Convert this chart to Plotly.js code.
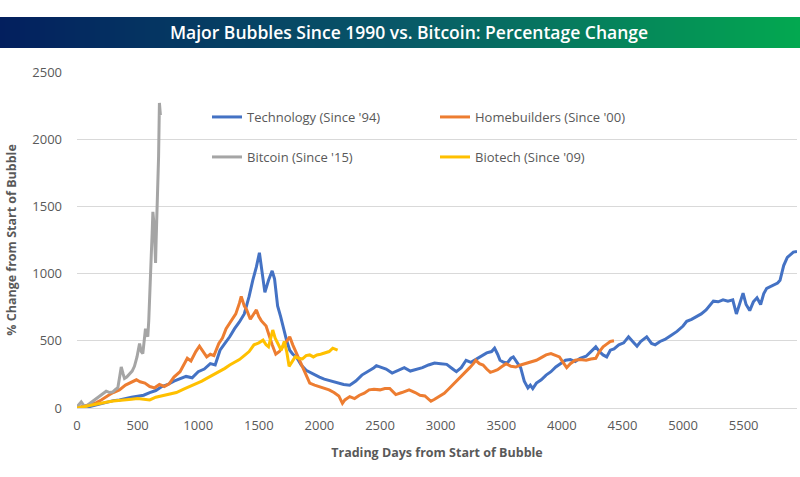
<!DOCTYPE html>
<html>
<head>
<meta charset="utf-8">
<script src="https://cdn.plot.ly/plotly-3.0.1.min.js"></script>
<style>
html,body{margin:0;padding:0;background:#fff;}
#chart{width:800px;height:477px;}
</style>
</head>
<body>
<div id="chart"></div>
<script>
// ---- Data ----
const techDays = [0,40,80,120,160,200,250,300,350,400,450,500,550,600,650,700,750,800,850,900,950,1000,1050,1100,1140,1180,1220,1260,1300,1340,1380,1420,1450,1480,1505,1530,1550,1580,1610,1630,1655,1680,1700,1730,1755,1780,1810,1850,1890,1930,1970,2000,2040,2080,2120,2160,2200,2250,2300,2350,2400,2450,2470,2500,2550,2600,2650,2700,2750,2800,2850,2900,2950,3000,3050,3100,3130,3170,3210,3250,3300,3340,3380,3420,3445,3470,3490,3520,3550,3580,3600,3630,3660,3690,3720,3740,3760,3790,3830,3870,3910,3950,3990,4030,4070,4110,4150,4200,4240,4280,4310,4340,4370,4400,4430,4470,4510,4550,4590,4620,4650,4700,4740,4770,4810,4850,4900,4950,5000,5030,5070,5110,5150,5190,5220,5250,5290,5330,5370,5410,5440,5470,5495,5520,5550,5580,5610,5640,5665,5690,5720,5750,5780,5800,5830,5860,5880,5910,5940];
const techVals = [0,8,5,15,25,35,45,55,60,72,80,88,95,115,130,160,175,200,215,235,225,270,290,330,320,430,480,530,590,640,700,830,950,1050,1155,980,860,950,1020,960,760,680,600,500,430,400,380,320,280,260,240,230,215,205,195,185,175,170,200,245,270,300,315,305,290,260,280,300,275,285,300,320,335,330,325,290,270,300,355,340,365,385,410,420,445,400,355,340,335,370,380,340,300,200,150,170,145,185,210,245,270,305,330,355,360,345,370,385,420,455,420,395,380,430,440,470,485,530,490,460,495,530,480,470,495,510,540,570,610,645,660,680,700,730,760,795,790,805,795,805,700,780,855,770,725,790,820,770,850,890,905,915,930,950,1060,1120,1135,1160,1165];

const homeDays = [0,40,80,120,160,200,240,270,300,350,400,450,490,520,560,600,640,680,720,760,800,850,880,910,940,980,1010,1040,1070,1100,1130,1170,1200,1230,1270,1310,1340,1355,1380,1400,1430,1460,1480,1500,1520,1560,1590,1610,1640,1670,1700,1730,1755,1780,1810,1840,1870,1900,1920,1960,2000,2040,2080,2120,2160,2190,2210,2250,2290,2330,2370,2410,2450,2500,2540,2580,2630,2680,2740,2790,2830,2870,2920,2950,2990,3030,3070,3110,3150,3200,3240,3270,3290,3320,3350,3380,3410,3440,3470,3500,3540,3580,3620,3660,3700,3740,3790,3830,3870,3910,3940,3980,4010,4040,4070,4110,4150,4200,4240,4280,4310,4340,4370,4400,4430];
const homeVals = [0,10,20,35,40,60,85,100,115,135,170,195,210,195,185,160,150,175,160,180,230,270,320,370,350,420,460,420,380,400,390,480,520,590,650,700,780,830,760,730,660,700,730,680,650,610,520,470,400,420,460,500,530,470,410,340,280,220,185,170,160,145,135,115,90,35,60,85,70,95,110,135,140,135,145,145,100,115,135,115,95,90,50,65,85,110,145,180,220,265,300,330,355,330,320,290,265,275,285,305,330,310,305,320,330,345,355,375,395,405,395,380,340,300,330,355,360,355,365,370,420,455,475,495,500];

const btcDays = [0,20,35,55,76,100,130,160,186,210,241,270,296,320,337,355,365,380,392,410,433,455,474,495,516,530,543,555,565,575,584,592,598,606,612,620,626,632,639,644,648,653,659,665,673,680,684,688];
const btcVals = [10,30,45,20,10,30,50,70,85,105,125,115,120,140,150,250,305,255,220,230,250,275,310,380,480,420,405,500,590,560,530,650,760,950,1120,1300,1460,1400,1320,1180,1080,1250,1420,1650,1870,2270,2200,2180];

const bioDays = [0,50,100,150,200,250,300,350,400,450,500,550,600,650,700,760,820,880,930,980,1030,1070,1110,1150,1180,1220,1260,1300,1340,1380,1420,1460,1500,1535,1560,1580,1600,1615,1635,1660,1685,1710,1730,1750,1770,1800,1830,1860,1890,1920,1950,1980,2010,2040,2080,2110,2130,2150];
const bioVals = [0,10,18,30,40,45,52,55,58,65,70,65,60,80,90,105,115,140,158,180,200,220,240,260,270,295,320,340,360,390,420,470,485,505,470,455,540,580,520,480,430,495,420,310,340,380,370,365,390,395,380,395,400,410,420,445,440,430];

const seriesNames = ["Technology (Since '94)","Homebuilders (Since '00)","Bitcoin (Since '15)","Biotech (Since '09)"];
const xTickVals = [0,500,1000,1500,2000,2500,3000,3500,4000,4500,5000,5500];
const yTickVals = [0,500,1000,1500,2000,2500];

// ---- Layout geometry ----
const W = 800, H = 477;
const M = {l:77, r:3, t:72, b:69};
const pw = W - M.l - M.r, ph = H - M.t - M.b;
const px2paperX = p => (p - M.l) / pw;
const py2paperY = p => (H - M.b - p) / ph;

// Banner gradient as thin rectangles
function lerp(a,b,t){return a+(b-a)*t;}
const stops = [[0,[3,31,94]],[0.5,[8,88,104]],[1,[3,168,80]]];
function colorAt(t){
  for(let i=0;i<stops.length-1;i++){
    const [t0,c0]=stops[i],[t1,c1]=stops[i+1];
    if(t<=t1){const u=(t-t0)/(t1-t0);
      return 'rgb('+c0.map((v,k)=>Math.round(lerp(v,c1[k],u))).join(',')+')';}
  }
  return 'rgb(3,168,80)';
}
const shapes = [];
const N = 160;
for(let i=0;i<N;i++){
  const a = i*W/N, b = (i+1)*W/N + 0.6;
  shapes.push({type:'rect', xref:'paper', yref:'paper',
    x0:px2paperX(a), x1:px2paperX(b), y0:py2paperY(48), y1:py2paperY(17),
    fillcolor:colorAt((i+0.5)/N), line:{width:0}, layer:'below'});
}

const colors = ['#4472C4','#ED7D31','#A5A5A5','#FFC000'];
const traces = [
  {x:techDays, y:techVals, name:seriesNames[0], legend:'legend'},
  {x:homeDays, y:homeVals, name:seriesNames[1], legend:'legend'},
  {x:btcDays, y:btcVals, name:seriesNames[2], legend:'legend2'},
  {x:bioDays, y:bioVals, name:seriesNames[3], legend:'legend2'}
].map((t,i)=>Object.assign(t,{type:'scatter', mode:'lines', line:{color:colors[i], width:3}, hoverinfo:'skip'}));

const tickFont = {family:'Open Sans, Liberation Sans, sans-serif', size:13, color:'#595959'};
const legendCommon = {orientation:'h', xanchor:'left', yanchor:'middle', x:px2paperX(207),
  entrywidth:183, entrywidthmode:'pixels', bgcolor:'rgba(0,0,0,0)',
  font:{family:'Open Sans, sans-serif', size:13, color:'#595959'}, itemwidth:30};

const layout = {
  width:W, height:H, margin:M, paper_bgcolor:'#fff', plot_bgcolor:'#fff',
  showlegend:true,
  title:{text:'Major Bubbles Since 1990 vs. Bitcoin: Percentage Change',
    font:{family:'Open Sans, sans-serif', size:17.5, color:'#ffffff', weight:600},
    x:409/W, xref:'container', xanchor:'center', y:1-33/H, yref:'container', yanchor:'middle'},
  xaxis:{range:[0,5940], tickvals:xTickVals, ticktext:xTickVals.map(String), showgrid:false,
    zeroline:false, showline:false, ticks:'', tickfont:tickFont, ticklabelstandoff:8,
    title:{text:'Trading Days from Start of Bubble', standoff:15,
      font:{family:'Open Sans, sans-serif', size:12.5, color:'#595959', weight:700}}},
  yaxis:{range:[0,2500], tickvals:yTickVals, ticktext:yTickVals.map(String), showgrid:true,
    gridcolor:'#d9d9d9', gridwidth:1, zeroline:true, zerolinecolor:'#d9d9d9', zerolinewidth:1,
    showline:false, ticks:'', tickfont:tickFont, ticklabelstandoff:14,
    title:{text:'% Change from Start of Bubble', standoff:12,
      font:{family:'Open Sans, sans-serif', size:12.5, color:'#595959', weight:700}}},
  legend:Object.assign({}, legendCommon, {y:py2paperY(117)}),
  legend2:Object.assign({}, legendCommon, {y:py2paperY(157)}),
  shapes:shapes
};

Plotly.newPlot('chart', traces, layout, {displayModeBar:false, staticPlot:true});
</script>
</body>
</html>
